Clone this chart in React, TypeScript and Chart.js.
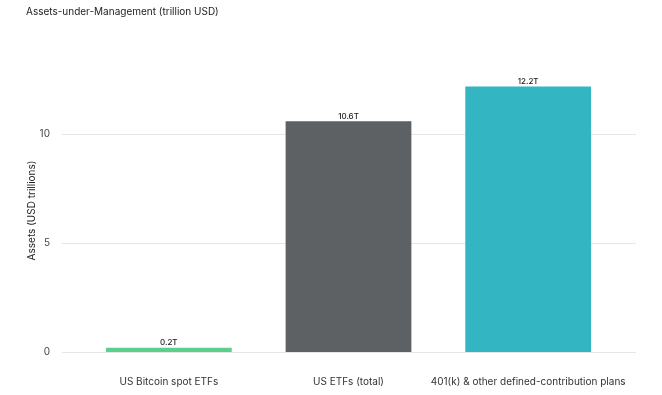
import React, { useEffect, useRef } from "react";
import { Chart, registerables } from "chart.js";

Chart.register(...registerables);

const categories = ["US Bitcoin spot ETFs", "US ETFs (total)", "401(k) & other defined-contribution plans"];
const assets = [0.2, 10.6, 12.2];
const valueLabels = ["0.2T", "10.6T", "12.2T"];
const barColors = ["#5ccf8e", "#5d6164", "#33b6c1"];
const gridTicks = [0, 5, 10];

const FONT = "Inter, 'Liberation Sans', sans-serif";

const gridPlugin = {
  id: "wideGrid",
  beforeDatasetsDraw(chart: any) {
    const { ctx, chartArea, scales } = chart;
    ctx.save();
    ctx.strokeStyle = "#e6e6e6";
    ctx.lineWidth = 1;
    for (const v of gridTicks) {
      const y = Math.round(scales.y.getPixelForValue(v)) + 0.5;
      ctx.beginPath();
      ctx.moveTo(chartArea.left - 17, y);
      ctx.lineTo(chartArea.right + 18, y);
      ctx.stroke();
    }
    ctx.restore();
  },
};

const labelPlugin = {
  id: "valueLabels",
  afterDatasetsDraw(chart: any) {
    const { ctx } = chart;
    const meta = chart.getDatasetMeta(0);
    ctx.save();
    ctx.font = `500 8px ${FONT}`;
    ctx.fillStyle = "#222";
    ctx.textAlign = "center";
    ctx.textBaseline = "bottom";
    meta.data.forEach((bar: any, i: number) => {
      ctx.fillText(valueLabels[i], bar.x, bar.y - 1);
    });
    ctx.restore();
  },
};

export default function App() {
  const ref = useRef<HTMLCanvasElement>(null);
  useEffect(() => {
    document.body.style.margin = "0";
    const chart = new Chart(ref.current!, {
      type: "bar",
      data: {
        labels: categories,
        datasets: [
          {
            data: assets,
            backgroundColor: barColors,
            barPercentage: 0.7,
            categoryPercentage: 1,
          },
        ],
      },
      options: {
        animation: false,
        responsive: false,
        layout: { padding: { left: 26, right: 44, top: 0, bottom: 0 } },
        plugins: {
          legend: { display: false },
          tooltip: { enabled: false },
          title: {
            display: true,
            text: "Assets-under-Management (trillion USD)",
            align: "start",
            color: "#222",
            font: { family: FONT, size: 10, weight: "normal" },
            padding: { top: 6, bottom: 51 },
          },
        },
        scales: {
          x: {
            grid: { display: false, drawTicks: false },
            border: { display: false },
            ticks: {
              color: "#333",
              font: { family: FONT, size: 10 },
              padding: 24,
              maxRotation: 0,
              autoSkip: false,
            },
            afterFit(scale: any) {
              scale.height = 43;
            },
          },
          y: {
            min: 0,
            max: 13,
            grid: { display: false, drawTicks: false },
            border: { display: false },
            ticks: {
              stepSize: 5,
              color: "#444",
              font: { family: FONT, size: 10 },
              padding: 29,
              callback: (v: any) => (gridTicks.includes(v) ? String(v) : ""),
            },
            title: {
              display: true,
              text: "Assets (USD trillions)",
              color: "#222",
              font: { family: FONT, size: 10 },
              padding: 0,
            },
            afterFit(scale: any) {
              scale.width = 53;
            },
          },
        },
      },
      plugins: [gridPlugin, labelPlugin],
    });
    return () => chart.destroy();
  }, []);
  return (
    <div style={{ width: 662, height: 395, background: "#fff" }}>
      <canvas ref={ref} width={662} height={395} />
    </div>
  );
}
